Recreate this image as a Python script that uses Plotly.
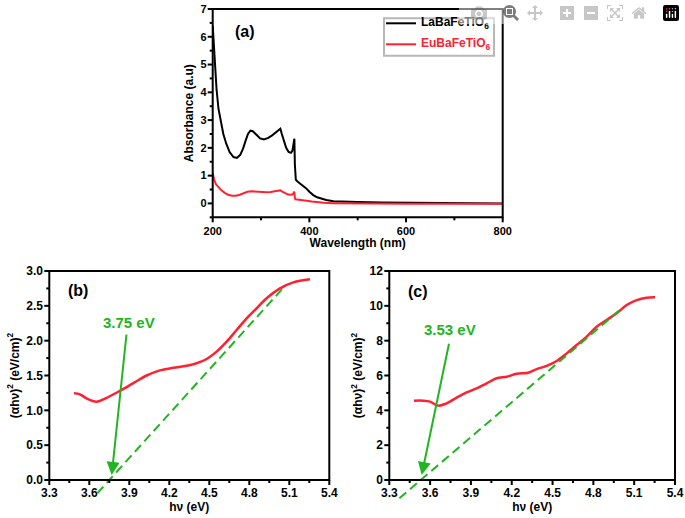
import numpy as np
import plotly.graph_objects as go

# ---------------- data ----------------
wl_la = [200, 202, 205, 208, 212, 217, 222, 228, 235, 243, 250, 257, 263, 268, 273, 278, 283, 290,
         298, 306, 315, 323, 330, 336, 340, 343, 347, 352, 357, 362, 365, 367, 369, 370, 371, 372,
         376, 381, 387, 393, 400, 408, 416, 425, 435, 450, 470, 500, 550, 600, 650, 700, 750, 800]
abs_la = [6.4, 5.7, 4.9, 4.1, 3.4, 2.9, 2.5, 2.15, 1.85, 1.67, 1.64, 1.75, 1.98, 2.25, 2.5, 2.62, 2.6, 2.48,
          2.34, 2.3, 2.36, 2.45, 2.55, 2.63, 2.69, 2.5, 2.25, 2.0, 1.85, 1.82, 1.9, 2.1, 2.33, 1.4, 0.9, 0.85,
          0.78, 0.72, 0.65, 0.55, 0.42, 0.3, 0.22, 0.16, 0.12, 0.08, 0.06, 0.05, 0.03, 0.02, 0.015, 0.01, 0.005, 0.0]

wl_eu = [200, 203, 207, 212, 218, 225, 232, 240, 248, 256, 264, 272, 280, 288, 296, 304, 312, 320,
         328, 335, 340, 344, 350, 356, 362, 366, 368, 369, 370, 371, 375, 382, 390, 398, 405, 415,
         430, 450, 500, 600, 700, 800]
abs_eu = [1.1, 0.85, 0.68, 0.57, 0.47, 0.38, 0.31, 0.28, 0.28, 0.31, 0.36, 0.42, 0.44, 0.43, 0.4, 0.39, 0.4, 0.41,
          0.43, 0.45, 0.47, 0.42, 0.36, 0.32, 0.31, 0.33, 0.4, 0.42, 0.2, 0.15, 0.14, 0.13, 0.11, 0.09, 0.07, 0.04,
          0.02, 0.01, 0.0, -0.01, -0.01, -0.01]

hv_b = [3.485, 3.53, 3.58, 3.655, 3.73, 3.83, 3.93, 4.03, 4.13, 4.23, 4.33, 4.405, 4.48, 4.555,
        4.63, 4.705, 4.78, 4.855, 4.93, 5.03, 5.13, 5.255]
tauc_b = [1.244, 1.23, 1.17, 1.124, 1.18, 1.28, 1.39, 1.50, 1.574, 1.61, 1.64, 1.675, 1.737, 1.842,
          1.986, 2.153, 2.32, 2.464, 2.608, 2.75, 2.837, 2.88]
fit_b_x = [3.66, 5.07]
fit_b_y = [-0.19, 2.79]
gap_b = 3.75

hv_c = [3.481, 3.55, 3.599, 3.66, 3.721, 3.795, 3.868, 3.942, 4.016, 4.089, 4.163, 4.236, 4.322,
        4.383, 4.457, 4.53, 4.604, 4.677, 4.751, 4.824, 4.898, 4.971, 5.045, 5.118, 5.19, 5.253]
tauc_c = [4.555, 4.555, 4.50, 4.27, 4.40, 4.73, 5.03, 5.26, 5.55, 5.84, 5.93, 6.10, 6.16,
          6.37, 6.55, 6.83, 7.27, 7.75, 8.23, 8.80, 9.19, 9.57, 10.05, 10.33, 10.47, 10.49]
fit_c_x = [3.374, 5.008]
fit_c_y = [-1.047, 9.855]
gap_c = 3.53

series_names = ["LaBaFeTiO<sub>6</sub>", "EuBaFeTiO<sub>6</sub>"]

# ---------------- style ----------------
RED = "#ff2030"
GREEN = "#22b422"
FONT = "Arial, Liberation Sans, sans-serif"
W, H = 685, 518
LW = 2  # frame / tick width

dom_a_x = [212.7 / W, 502.7 / W]
dom_a_y = [1 - 217.3 / H, 1 - 9 / H]
dom_b_x = [49.3 / W, 329.3 / W]
dom_c_x = [389.3 / W, 675 / W]
dom_bc_y = [1 - 480 / H, 1 - 271 / H]
ext = 22 / H  # extra room below the bottom axes for the dashed fits
dom_ext_y = [dom_bc_y[0] - ext, dom_bc_y[1]]
frac = ext / (dom_bc_y[1] - dom_bc_y[0])

rng_a_x, rng_a_y = [200, 800], [-0.5, 7]
rng_hv, rng_b_y, rng_c_y = [3.3, 5.4], [0, 3], [0, 12]

fig = go.Figure()

fig.add_trace(go.Scatter(x=wl_la, y=abs_la, mode="lines", name=series_names[0], showlegend=False,
                         line=dict(color="black", width=2), xaxis="x", yaxis="y"))
fig.add_trace(go.Scatter(x=wl_eu, y=abs_eu, mode="lines", name=series_names[1], showlegend=False,
                         line=dict(color=RED, width=2), xaxis="x", yaxis="y"))

fig.add_trace(go.Scatter(x=hv_b, y=tauc_b, mode="lines", showlegend=False, line_shape="spline",
                         line=dict(color=RED, width=2.5), xaxis="x2", yaxis="y2"))
fig.add_trace(go.Scatter(x=hv_c, y=tauc_c, mode="lines", showlegend=False, line_shape="spline",
                         line=dict(color=RED, width=2.5), xaxis="x3", yaxis="y3"))

# fitted dashed lines on extended invisible axes (same scale, room below the axis)
fig.add_trace(go.Scatter(x=fit_b_x, y=fit_b_y, mode="lines", showlegend=False,
                         line=dict(color=GREEN, width=2, dash="9px,5px"), xaxis="x4", yaxis="y4"))
fig.add_trace(go.Scatter(x=fit_c_x, y=fit_c_y, mode="lines", showlegend=False,
                         line=dict(color=GREEN, width=2, dash="9px,5px"), xaxis="x5", yaxis="y5"))

tickfont = dict(family=FONT, size=12, color="black", weight="bold")
titlefont = dict(family=FONT, size=12, color="black", weight="bold")


def ax(**kw):
    d = dict(showline=False, ticks="outside", ticklen=5, tickwidth=1, tickcolor="rgba(0,0,0,0)",
             showgrid=False, zeroline=False, tickfont=tickfont, automargin=False)
    d.update(kw)
    return d


fig.update_layout(
    width=W, height=H, margin=dict(l=0, r=0, t=0, b=0, autoexpand=False),
    paper_bgcolor="white", plot_bgcolor="rgba(0,0,0,0)",
    font=dict(family=FONT, color="black"),
    showlegend=False,
    xaxis=ax(domain=dom_a_x, anchor="y", range=rng_a_x, tick0=200, dtick=200,
             tickfont=dict(family=FONT, size=11, color="black", weight="bold"),
             ticklabelstandoff=-2,
             title=dict(text="Wavelength (nm)", font=titlefont, standoff=0)),
    yaxis=ax(domain=dom_a_y, anchor="x", range=rng_a_y, tick0=0, dtick=1,
             tickfont=dict(family=FONT, size=11, color="black", weight="bold"),
             ticklabelstandoff=-2,
             title=dict(text="Absorbance (a.u)", font=titlefont, standoff=4)),
    xaxis2=ax(domain=dom_b_x, anchor="y2", range=rng_hv, tick0=3.3, dtick=0.3,
              tickformat=".1f", ticklabelstandoff=-3,
              title=dict(text="hν (eV)", font=titlefont, standoff=0)),
    yaxis2=ax(domain=dom_bc_y, anchor="x2", range=rng_b_y, tick0=0, dtick=0.5,
              tickformat=".1f", ticklabelstandoff=-2,
              title=dict(text="(αhν)<sup>2</sup> (eV/cm)<sup>2</sup>", font=titlefont, standoff=4)),
    xaxis3=ax(domain=dom_c_x, anchor="y3", range=rng_hv, tick0=3.3, dtick=0.3,
              tickformat=".1f", ticklabelstandoff=-3,
              title=dict(text="hν (eV)", font=titlefont, standoff=0)),
    yaxis3=ax(domain=dom_bc_y, anchor="x3", range=rng_c_y, tick0=0, dtick=2, ticklabelstandoff=-2,
              title=dict(text="(αhν)<sup>2</sup> (eV/cm)<sup>2</sup>", font=titlefont, standoff=4)),
    xaxis4=dict(domain=dom_b_x, anchor="y4", range=rng_hv, visible=False),
    yaxis4=dict(domain=dom_ext_y, anchor="x4", range=[-3 * frac, 3], visible=False),
    xaxis5=dict(domain=dom_c_x, anchor="y5", range=rng_hv, visible=False),
    yaxis5=dict(domain=dom_ext_y, anchor="x5", range=[-12 * frac, 12], visible=False),
)


# ---- frame and tick marks as paper shapes (mapped through each axis' range/domain) ----
def to_paper(dom, rng, v):
    return dom[0] + (v - rng[0]) / (rng[1] - rng[0]) * (dom[1] - dom[0])


def decorate(xdom, ydom, xr, yr, xmaj, xmin, ymaj, ymin):
    k = dict(color="black", width=LW)
    fig.add_shape(type="rect", xref="paper", yref="paper", x0=xdom[0], x1=xdom[1],
                  y0=ydom[0], y1=ydom[1], line=k, fillcolor="rgba(0,0,0,0)")
    for vals, ln in ((xmaj, 5), (xmin, 3)):
        for v in vals:
            p = to_paper(xdom, xr, v)
            fig.add_shape(type="line", xref="paper", yref="paper", x0=p, x1=p,
                          y0=ydom[0], y1=ydom[0] - ln / H, line=k)
    for vals, ln in ((ymaj, 5), (ymin, 3)):
        for v in vals:
            p = to_paper(ydom, yr, v)
            fig.add_shape(type="line", xref="paper", yref="paper", y0=p, y1=p,
                          x0=xdom[0], x1=xdom[0] - ln / W, line=k)


def steps(a, b, s):
    return [round(v, 4) for v in np.arange(a, b + s / 2, s)]


decorate(dom_a_x, dom_a_y, rng_a_x, rng_a_y, steps(200, 800, 200), steps(300, 700, 200),
         steps(0, 7, 1), steps(-0.5, 6.5, 1))
decorate(dom_b_x, dom_bc_y, rng_hv, rng_b_y, steps(3.3, 5.4, 0.3), steps(3.45, 5.25, 0.3),
         steps(0, 3, 0.5), steps(0.25, 2.75, 0.5))
decorate(dom_c_x, dom_bc_y, rng_hv, rng_c_y, steps(3.3, 5.4, 0.3), steps(3.45, 5.25, 0.3),
         steps(0, 12, 2), steps(1, 11, 2))

# ---- legend box (a) ----
fig.add_shape(type="rect", xref="paper", yref="paper", x0=384 / W, x1=494 / W,
              y0=1 - 55.7 / H, y1=1 - 18.3 / H, line=dict(color="#b8b8b8", width=2),
              fillcolor="white")
for i, (nm, col) in enumerate(zip(series_names, ["black", RED])):
    yy = 1 - (23.3 + 21 * i) / H
    fig.add_shape(type="line", xref="paper", yref="paper", x0=386 / W, x1=416 / W, y0=yy, y1=yy,
                  line=dict(color=col, width=2))
    fig.add_annotation(text=nm, xref="paper", yref="paper", x=419 / W, y=yy, xanchor="left",
                       yanchor="middle", showarrow=False,
                       font=dict(family=FONT, size=12, color=col, weight="bold"))

lab = dict(family=FONT, size=16, color="black", weight="bold")
for t, xr_, yr_, xx, yy in (("(a)", "x domain", "y domain", 0.111, 0.894),
                            ("(b)", "x2 domain", "y2 domain", 0.1025, 0.909),
                            ("(c)", "x3 domain", "y3 domain", 0.1005, 0.90)):
    fig.add_annotation(text=t, xref=xr_, yref=yr_, x=xx, y=yy, xanchor="center", yanchor="middle",
                       showarrow=False, font=lab)

gfont = dict(family=FONT, size=15, color=GREEN, weight="bold")
fig.add_annotation(text="%.2f eV" % gap_b, xref="x2", yref="y2", x=3.898, y=2.254,
                   xanchor="center", yanchor="middle", showarrow=False, font=gfont)
fig.add_annotation(text="", xref="x2", yref="y2", x=3.768, y=0.072, axref="x2", ayref="y2",
                   ax=3.88, ay=2.11, showarrow=True, arrowhead=2, arrowsize=1.3, arrowwidth=2,
                   arrowcolor=GREEN)
fig.add_annotation(text="%.2f eV" % gap_c, xref="x3", yref="y3", x=3.746, y=8.67,
                   xanchor="center", yanchor="middle", showarrow=False, font=gfont)
fig.add_annotation(text="", xref="x3", yref="y3", x=3.538, y=0.287, axref="x3", ayref="y3",
                   ax=3.741, ay=7.91, showarrow=True, arrowhead=2, arrowsize=1.3, arrowwidth=2,
                   arrowcolor=GREEN)

fig.write_html("out.html", post_script="document.body.style.margin='0';")
